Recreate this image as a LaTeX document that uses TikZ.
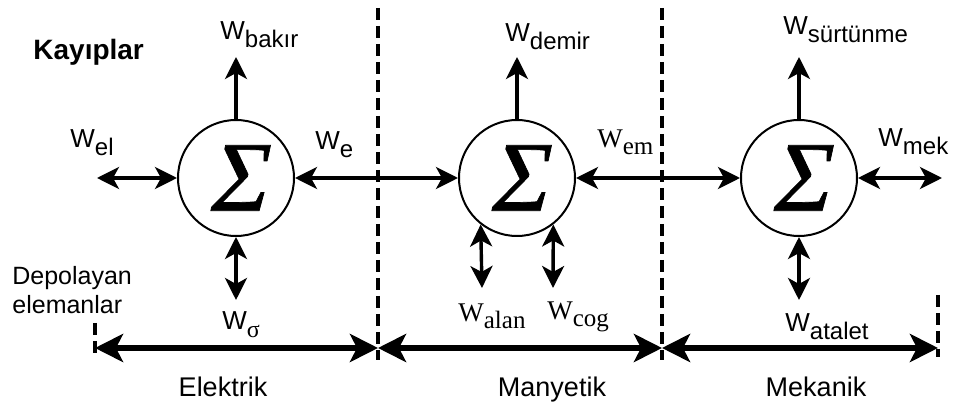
\documentclass[tikz,border=0pt]{standalone}
\usepackage{fontspec}
\setmainfont{Liberation Sans}
\newfontfamily\timesf{Liberation Serif}
\newfontfamily\sigmaf[FakeSlant=0.22,FakeBold=0.7]{Liberation Serif}
\usetikzlibrary{arrows.meta}
\newcommand{\Wsub}[1]{W\raisebox{-4pt}{\fontsize{12}{14}\selectfont #1}}
\newcommand{\Wrm}[1]{{\timesf\fontsize{13.5}{15}\selectfont W\raisebox{-3.5pt}{\fontsize{12.5}{14}\selectfont #1}}}
\tikzset{
  sumnode/.style={circle,draw,line width=1pt,minimum size=58pt,inner sep=0pt,
    font=\sigmaf\fontsize{50}{50}\selectfont},
  flow/.style={line width=1.7pt,-{Stealth[length=11pt,width=11pt,inset=3pt]}},
  dflow/.style={line width=1.7pt,{Stealth[length=11pt,width=11pt,inset=3pt]}-{Stealth[length=11pt,width=11pt,inset=3pt]}},
  spanarrow/.style={line width=2.8pt,{Stealth[length=14pt,width=14pt,inset=3.5pt]}-{Stealth[length=14pt,width=14pt,inset=3.5pt]}},
  divider/.style={line width=2pt,dash pattern=on 6pt off 3pt},
  lbl/.style={anchor=base west,inner sep=0pt,font=\fontsize{13}{15}\selectfont},
  region/.style={anchor=base,inner sep=0pt,font=\fontsize{13.5}{15}\selectfont},
}
\begin{document}
\begin{tikzpicture}[x=0.5pt,y=-0.5pt]
\useasboundingbox (0,0) rectangle (960,405);

\node[sumnode] (sumE) at (236,178) {Σ};
\node[sumnode] (sumM) at (517,178) {Σ};
\node[sumnode] (sumK) at (799,178) {Σ};

\coordinate (elEnd) at (97,178);
\coordinate (mekEnd) at (942,178);
\coordinate (bakirEnd) at (236,57);
\coordinate (demirEnd) at (517,57);
\coordinate (surtEnd) at (799,57);
\coordinate (sigmaEnd) at (236,300);
\coordinate (alanEnd) at (482,288);
\coordinate (cogEnd) at (553,288);
\coordinate (ataletEnd) at (799,300);

\draw[dflow] (elEnd) -- (sumE);
\draw[dflow] (sumE) -- (sumM);
\draw[dflow] (sumM) -- (sumK);
\draw[dflow] (sumK) -- (mekEnd);
\draw[flow] (sumE) -- (bakirEnd);
\draw[flow] (sumM) -- (demirEnd);
\draw[flow] (sumK) -- (surtEnd);
\draw[dflow] (sumE) -- (sigmaEnd);
\draw[dflow] (sumM.-128) -- (alanEnd);
\draw[dflow] (sumM.-52) -- (cogEnd);
\draw[dflow] (sumK) -- (ataletEnd);

% sinirlar
\coordinate (divAtop) at (378,8);
\coordinate (divAbot) at (378,360);
\coordinate (divBtop) at (662,8);
\coordinate (divBbot) at (662,360);
\coordinate (tickLtop) at (95,323);
\coordinate (tickLbot) at (95,357);
\coordinate (tickRtop) at (938,295);
\coordinate (tickRbot) at (938,357);
\draw[divider] (divAtop) -- (divAbot);
\draw[divider] (divBtop) -- (divBbot);
\draw[divider] (tickLtop) -- (tickLbot);
\draw[divider] (tickRtop) -- (tickRbot);

\coordinate (spanL) at (95,348);
\coordinate (spanA) at (378,348);
\coordinate (spanB) at (662,348);
\coordinate (spanR) at (938,348);
\draw[spanarrow] (spanL) -- (spanA);
\draw[spanarrow] (spanA) -- (spanB);
\draw[spanarrow] (spanB) -- (spanR);

\node[lbl,font=\bfseries\fontsize{14}{16}\selectfont] (kayip) at (33,60) {Kayıplar};
\node[lbl] (bakir) at (220,40) {\Wsub{bakır}};
\node[lbl] (demir) at (505,42) {\Wsub{demir}};
\node[lbl] (surt) at (783,35) {\Wsub{sürtünme}};
\node[lbl] (el) at (70,148) {\Wsub{el}};
\node[lbl] (we) at (315,150) {\Wsub{e}};
\node[lbl] (em) at (597,148) {\Wrm{em}};
\node[lbl] (mek) at (878,147) {\Wsub{mek}};
\node[lbl] (sigma) at (222,330) {\Wsub{\timesf σ}};
\node[lbl] (alan) at (458,322) {\Wrm{alan}};
\node[lbl] (cog) at (547,320) {\Wrm{cog}};
\node[lbl] (atalet) at (785,332) {\Wsub{atalet}};
\node[anchor=north west,inner sep=0pt,align=left,font=\fontsize{12.5}{14.5}\selectfont] (depo) at (12,266) {Depolayan\\elemanlar};

\node[region] (elektrik) at (223,397) {Elektrik};
\node[region] (manyetik) at (552,397) {Manyetik};
\node[region] (mekanik) at (816,397) {Mekanik};
\end{tikzpicture}
\end{document}
